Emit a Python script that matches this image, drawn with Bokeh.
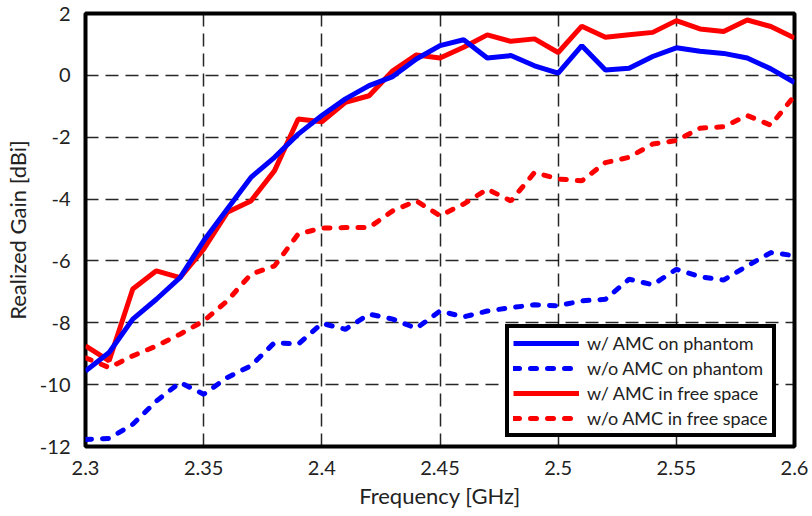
from bokeh.plotting import figure
from bokeh.models import FixedTicker, Range1d, Legend, LegendItem
from bokeh.embed import file_html
from bokeh.resources import INLINE

freq = [2.30, 2.31, 2.32, 2.33, 2.34, 2.35, 2.36, 2.37, 2.38, 2.39, 2.40,
        2.41, 2.42, 2.43, 2.44, 2.45, 2.46, 2.47, 2.48, 2.49, 2.50,
        2.51, 2.52, 2.53, 2.54, 2.55, 2.56, 2.57, 2.58, 2.59, 2.60]

amc_phantom = [-9.56, -8.96, -7.88, -7.24, -6.54, -5.35, -4.32, -3.30, -2.65, -1.90, -1.30,
               -0.76, -0.33, -0.04, 0.53, 0.96, 1.15, 0.56, 0.64, 0.31, 0.07,
               0.96, 0.17, 0.23, 0.61, 0.89, 0.78, 0.71, 0.56, 0.21, -0.23]

noamc_phantom = [-11.77, -11.74, -11.28, -10.53, -9.93, -10.31, -9.77, -9.39, -8.64, -8.69, -8.02,
                 -8.21, -7.72, -7.88, -8.18, -7.62, -7.81, -7.62, -7.51, -7.42, -7.45,
                 -7.29, -7.24, -6.59, -6.77, -6.27, -6.51, -6.62, -6.16, -5.73, -5.83]

amc_free = [-8.75, -9.23, -6.91, -6.32, -6.54, -5.62, -4.43, -4.06, -3.08, -1.41, -1.50,
            -0.87, -0.66, 0.15, 0.66, 0.56, 0.91, 1.31, 1.10, 1.18, 0.74,
            1.59, 1.23, 1.31, 1.39, 1.77, 1.50, 1.42, 1.79, 1.58, 1.21]

noamc_free = [-9.13, -9.45, -9.07, -8.75, -8.37, -7.94, -7.29, -6.43, -6.16, -5.13, -4.94,
              -4.92, -4.92, -4.38, -4.06, -4.54, -4.16, -3.68, -4.06, -3.14, -3.35,
              -3.41, -2.82, -2.65, -2.22, -2.11, -1.71, -1.66, -1.30, -1.61, -0.66]

x_ticks = [2.3, 2.35, 2.4, 2.45, 2.5, 2.55, 2.6]
x_tick_labels = ["2.3", "2.35", "2.4", "2.45", "2.5", "2.55", "2.6"]
y_ticks = [-12, -10, -8, -6, -4, -2, 0, 2]
y_tick_labels = ["-12", "-10", "-8", "-6", "-4", "-2", "0", "2"]

labels = ["w/ AMC on phantom", "w/o AMC on phantom",
          "w/ AMC in free space", "w/o AMC in free space"]

FONT = "Lato"

p = figure(width=812, height=516, output_backend="svg", toolbar_location=None,
           x_range=Range1d(2.3, 2.6), y_range=Range1d(-12, 2),
           frame_width=709, frame_height=433,
           min_border_left=85, min_border_top=13, min_border_right=18, min_border_bottom=10)
p.background_fill_color = "white"
p.border_fill_color = "white"
p.outline_line_color = "black"
p.outline_line_alpha = 1
p.outline_line_width = 4

p.xaxis.ticker = FixedTicker(ticks=x_ticks)
p.yaxis.ticker = FixedTicker(ticks=y_ticks)
p.xaxis.major_label_overrides = {t: l for t, l in zip(x_ticks, x_tick_labels)}
p.yaxis.major_label_overrides = {t: l for t, l in zip(y_ticks, y_tick_labels)}

for ax in (p.xaxis[0], p.yaxis[0]):
    ax.axis_line_color = None
    ax.major_tick_line_color = None
    ax.minor_tick_line_color = None
    ax.major_label_text_font = FONT
    ax.major_label_text_font_size = "20px"
    ax.major_label_text_color = "#222222"
    ax.axis_label_text_font = FONT
    ax.axis_label_text_font_size = "22px"
    ax.axis_label_text_font_style = "normal"
    ax.axis_label_text_color = "#222222"

p.xaxis.axis_label = "Frequency [GHz]"
p.yaxis.axis_label = "Realized Gain [dBi]"
p.xaxis.major_label_standoff = 8
p.yaxis.major_label_standoff = 9
p.xaxis.axis_label_standoff = 4
p.yaxis.axis_label_standoff = 6

p.grid.grid_line_color = "black"
p.grid.grid_line_alpha = 0.85
p.grid.grid_line_width = 1.5
p.grid.grid_line_dash = "13 7"
p.xgrid.ticker = FixedTicker(ticks=x_ticks[1:-1])
p.ygrid.ticker = FixedTicker(ticks=y_ticks[1:-1])

r2 = p.line(freq, noamc_phantom, line_color="#0000ff", line_width=5, line_dash="6 11", line_cap="round")
r4 = p.line(freq, noamc_free, line_color="#ff0000", line_width=5, line_dash="6 11", line_cap="round")
r3 = p.line(freq, amc_free, line_color="#ff0000", line_width=5)
r1 = p.line(freq, amc_phantom, line_color="#0000ff", line_width=5)

legend = Legend(items=[LegendItem(label=labels[0], renderers=[r1]),
                       LegendItem(label=labels[1], renderers=[r2]),
                       LegendItem(label=labels[2], renderers=[r3]),
                       LegendItem(label=labels[3], renderers=[r4])],
                location=(420, 9))
legend.border_line_color = "black"
legend.border_line_alpha = 1
legend.border_line_width = 4
legend.background_fill_color = "white"
legend.background_fill_alpha = 1
legend.label_text_font = FONT
legend.label_text_font_size = "18px"
legend.label_text_color = "#222222"
legend.glyph_width = 66
legend.glyph_height = 18
legend.label_height = 18
legend.spacing = 3
legend.padding = 4
legend.margin = 0
legend.label_standoff = 8
p.add_layout(legend, "center")

open("out.html", "w").write(file_html(p, INLINE))
